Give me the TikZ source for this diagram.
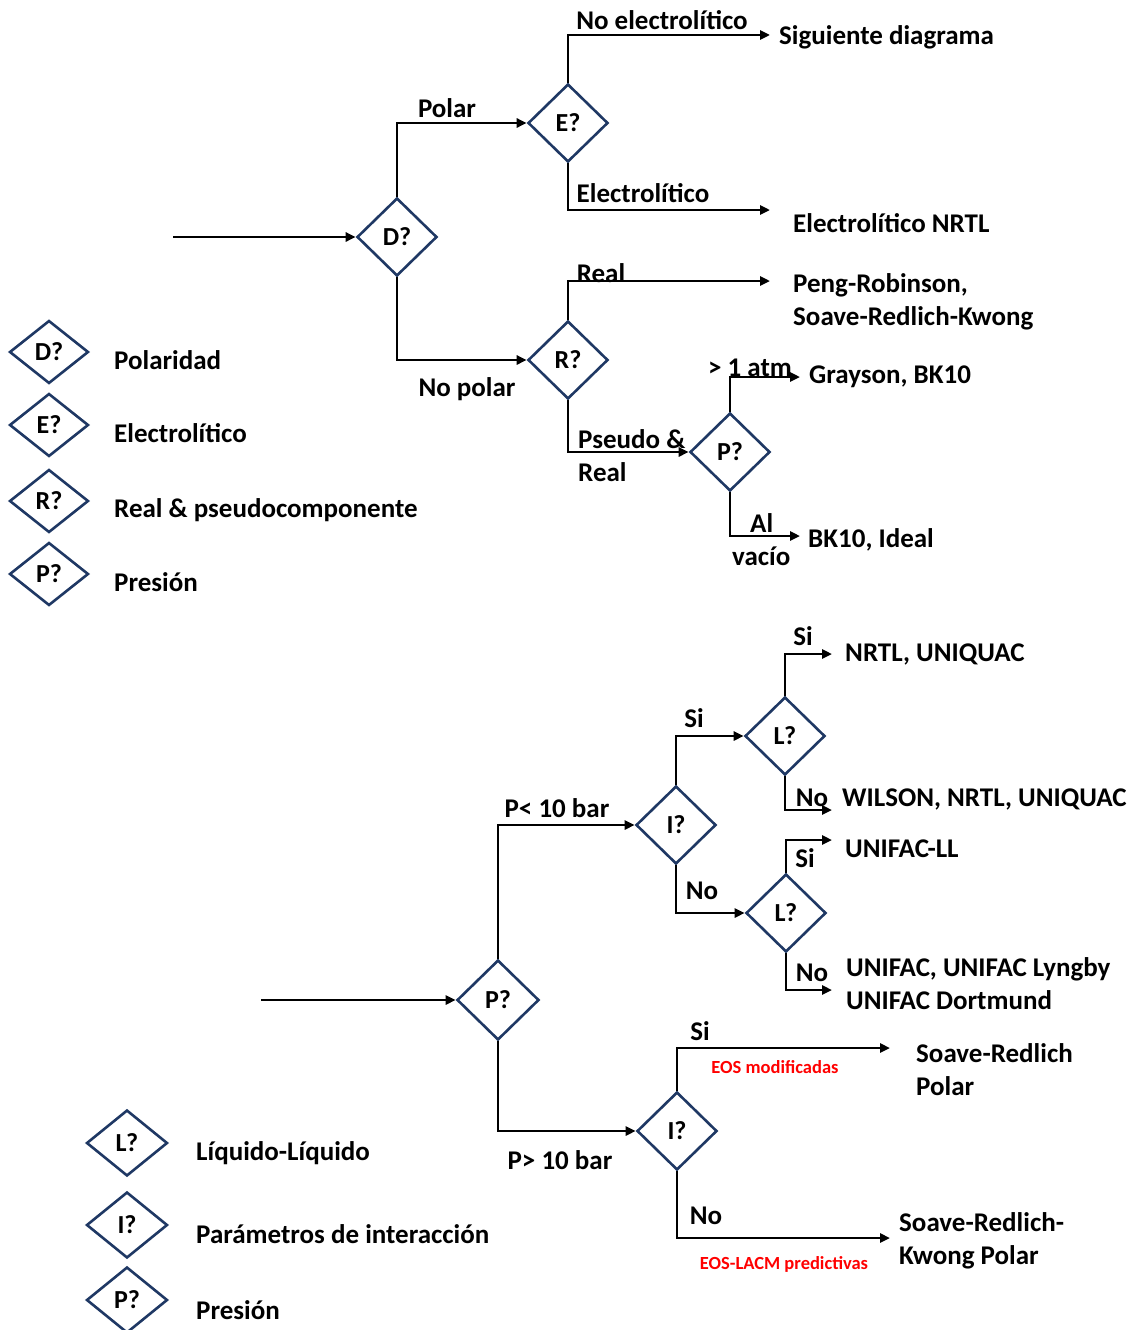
\documentclass[tikz,border=0pt]{standalone}
\usepackage{fontspec}
\setmainfont{Carlito}
\usetikzlibrary{shapes.geometric,arrows.meta}
\definecolor{navy}{HTML}{1F3864}
\begin{document}
\begin{tikzpicture}[x=1pt,y=-1pt,
  dec/.style={diamond,draw=navy,line width=2.6pt,minimum width=80pt,minimum height=78pt,inner sep=0pt,font=\fontsize{26}{30}\selectfont\bfseries},
  leg/.style={diamond,draw=navy,line width=2.6pt,minimum width=79pt,minimum height=63pt,inner sep=0pt,font=\fontsize{26}{30}\selectfont\bfseries},
  arr/.style={line width=2.8pt,-{Triangle[length=10pt,width=9pt]}},
  txt/.style={font=\fontsize{27}{33}\selectfont\bfseries,inner sep=0pt,align=left},
  res/.style={txt,anchor=west},
  red/.style={font=\fontsize{18.5}{22}\selectfont\bfseries,text=red,inner sep=0pt}]
\path[use as bounding box] (0,0) rectangle (1148,1330);
% ---------- top diagram ----------
\coordinate (in1) at (173,237);
\node[dec] (D) at (397,237) {D?};
\node[dec] (E) at (568,123) {E?};
\node[dec] (R) at (568,360) {R?};
\node[dec] (P1) at (730,452) {P?};
\draw[arr] (in1) -- (D.west);
\draw[arr] (D.north) |- (E.west);
\draw[arr] (D.south) |- (R.west);
\node[txt] (lpolar) at (447,108) {Polar};
\node[txt] (lnopolar) at (467,389) {No polar};
% E branches
\coordinate (e1) at (770,35);
\coordinate (e2) at (770,210);
\draw[arr] (E.north) |- (e1);
\draw[arr] (E.south) |- (e2);
\node[txt] (lnoel) at (662,20) {No electrolítico};
\node[txt] (lel) at (643,193) {Electrolítico};
\node[res] (rsig) at (779,37) {Siguiente diagrama};
\node[res] (renrtl) at (793,223) {Electrolítico NRTL};
% R branches
\coordinate (r1) at (770,281);
\draw[arr] (R.north) |- (r1);
\draw[arr] (R.south) |- (P1.west);
\node[txt] (lreal) at (601,273) {Real};
\node[txt,anchor=west] (lpseudo) at (578,456) {Pseudo \&\\Real};
\node[res] (rpeng) at (793,302) {Peng-Robinson,\\Soave-Redlich-Kwong};
% P branches
\coordinate (p1) at (800,377);
\coordinate (p2) at (800,536);
\draw[arr] (P1.north) |- (p1);
\draw[arr] (P1.south) |- (p2);
\node[txt] (latm) at (750,368) {> 1 atm};
\node[txt,anchor=west] (lvac) at (732,540) {\hspace*{18pt}Al\\vacío};
\node[res] (rgray) at (809,377) {Grayson, BK10};
\node[res] (rbk) at (808,540) {BK10, Ideal};
% legend top
\node[leg] (gD) at (49,352) {D?};
\node[leg] (gE) at (49,425) {E?};
\node[leg] (gR) at (49,501) {R?};
\node[leg] (gP) at (49,574) {P?};
\node[res] (tD) at (114,360) {Polaridad};
\node[res] (tE) at (114,433) {Electrolítico};
\node[res] (tR) at (114,510) {Real \& pseudocomponente};
\node[res] (tP) at (114,582) {Presión};
% ---------- bottom diagram ----------
\coordinate (in2) at (261,1000);
\node[dec,minimum width=82pt,minimum height=80pt] (P2) at (498,1000) {P?};
\node[dec] (I1) at (676,825) {I?};
\node[dec] (I2) at (677,1131) {I?};
\node[dec] (L1) at (785,736) {L?};
\node[dec] (L2) at (786,913) {L?};
\draw[arr] (in2) -- (P2.west);
\draw[arr] (P2.north) |- (I1.west);
\draw[arr] (P2.south) |- (I2.west);
\node[txt] (lp10a) at (557,808) {P< 10 bar};
\node[txt] (lp10b) at (560,1160) {P> 10 bar};
\draw[arr] (I1.north) |- (L1.west);
\draw[arr] (I1.south) |- (L2.west);
\node[txt] (lsi1) at (694,718) {Si};
\node[txt] (lno1) at (702,891) {No};
% L1 branches
\coordinate (l1a) at (832,654);
\coordinate (l1b) at (832,810);
\draw[arr] (L1.north) |- (l1a);
\draw[arr] (L1.south) |- (l1b);
\node[txt] (lsi2) at (803,636) {Si};
\node[txt] (lno2) at (812,798) {No};
\node[res] (rnrtl) at (845,654) {NRTL, UNIQUAC};
\node[res] (rwil) at (842,799) {WILSON, NRTL, UNIQUAC};
% L2 branches
\coordinate (l2a) at (832,840);
\coordinate (l2b) at (832,990);
\draw[arr] (L2.north) |- (l2a);
\draw[arr] (L2.south) |- (l2b);
\node[txt] (lsi3) at (805,858) {Si};
\node[txt] (lno3) at (812,973) {No};
\node[res] (runill) at (845,849) {UNIFAC-LL};
\node[res] (runi) at (846,984) {UNIFAC, UNIFAC Lyngby\\UNIFAC Dortmund};
% I2 branches
\coordinate (i2a) at (890,1048);
\coordinate (i2b) at (890,1238);
\draw[arr] (I2.north) |- (i2a);
\draw[arr] (I2.south) |- (i2b);
\node[txt] (lsi4) at (700,1031) {Si};
\node[txt] (lno4) at (706,1216) {No};
\node[red] (eos1) at (775,1067) {EOS modificadas};
\node[red] (eos2) at (784,1264) {EOS-LACM predictivas};
\node[res] (rsrp) at (916,1070) {Soave-Redlich\\Polar};
\node[res] (rsrk) at (899,1241) {Soave-Redlich-\\Kwong Polar};
% legend bottom
\node[leg,minimum width=81pt,minimum height=66pt] (gL) at (127,1143) {L?};
\node[leg,minimum width=81pt,minimum height=66pt] (gI) at (127,1225) {I?};
\node[leg,minimum width=81pt,minimum height=66pt] (gP2) at (127,1300) {P?};
\node[res] (tL) at (196,1153) {Líquido-Líquido};
\node[res] (tI) at (196,1234) {Parámetros de interacción};
\node[res] (tP2) at (196,1310) {Presión};
\end{tikzpicture}
\end{document}
